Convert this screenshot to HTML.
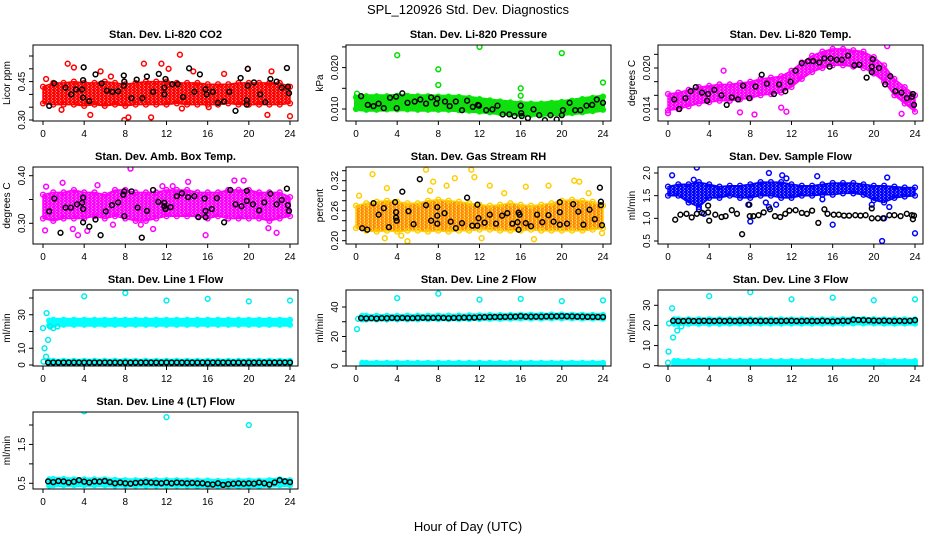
<!DOCTYPE html>
<html><head><meta charset="utf-8"><title>SPL_120926 Std. Dev. Diagnostics</title>
<style>html,body{margin:0;padding:0;background:#fff}svg{display:block}text{font-family:"Liberation Sans",Arial,sans-serif}</style>
</head><body>
<svg id="chart" width="936" height="540" viewBox="0 0 936 540" xmlns="http://www.w3.org/2000/svg">
<rect width="936" height="540" fill="#fff"/>
<text x="468" y="14" font-size="13" text-anchor="middle">SPL_120926  Std. Dev. Diagnostics</text>
<text x="468" y="531" font-size="13" text-anchor="middle">Hour of Day (UTC)</text>
</svg>
<script>
const bandHours=[0,1,2,3,4,5,6,7,8,9,10,11,12,13,14,15,16,17,18,19,20,21,22,23,24];
const lineHours=[0.6,1,2,3,4,5,6,7,8,9,10,11,12,13,14,15,16,17,18,19,20,21,22,23,24];
const halfHours=[0.5,1,1.5,2,2.5,3,3.5,4,4.5,5,5.5,6,6.5,7,7.5,8,8.5,9,9.5,10,10.5,11,11.5,12,12.5,13,13.5,14,14.5,15,15.5,16,16.5,17,17.5,18,18.5,19,19.5,20,20.5,21,21.5,22,22.5,23,23.5,24];
const xTickLabels=[0,4,8,12,16,20,24];

// CO2
const co2Lo=[0.365,0.36,0.36,0.36,0.355,0.36,0.355,0.36,0.355,0.36,0.36,0.36,0.36,0.365,0.36,0.36,0.36,0.36,0.365,0.36,0.36,0.36,0.36,0.36,0.365];
const co2Hi=[0.43,0.445,0.445,0.45,0.445,0.445,0.45,0.445,0.44,0.445,0.45,0.45,0.45,0.445,0.445,0.445,0.44,0.44,0.44,0.445,0.445,0.445,0.445,0.445,0.43];
const co2OutX=[7.9,8.3,13.3,12.2,5.6,14.6,19.9,10.5,24,4.6,1.8,2.4,9.8,11.5,13.5,17.6,21.8,22.2,3.0,16.1,6.6,0.3];
const co2OutY=[0.30,0.31,0.555,0.50,0.49,0.49,0.50,0.31,0.315,0.32,0.34,0.52,0.52,0.52,0.345,0.48,0.32,0.49,0.505,0.35,0.47,0.46];
const co2BlkX=[0.6,1.1,2.2,2.75,3.2,3.8,3.9,3.95,3.9,4.5,5.1,5.7,6.2,6.75,7.3,7.85,7.85,7.9,8.6,9.1,9.65,10.1,10.7,11.25,11.8,11.8,11.9,12.55,13.1,13.6,14.2,14.7,15.25,15.8,15.9,16.5,17.0,17.6,18.1,18.7,19.2,19.8,19.8,19.9,19.9,20.5,21.1,21.6,22.1,22.7,23.2,23.7,23.8,23.9];
const co2BlkY=[0.355,0.443,0.426,0.40,0.419,0.419,0.456,0.506,0.387,0.374,0.478,0.443,0.415,0.41,0.412,0.474,0.434,0.45,0.385,0.458,0.385,0.47,0.41,0.48,0.426,0.40,0.46,0.44,0.44,0.39,0.502,0.41,0.478,0.42,0.40,0.41,0.367,0.372,0.41,0.336,0.464,0.377,0.36,0.434,0.50,0.447,0.40,0.37,0.46,0.45,0.426,0.503,0.43,0.405];
const co2Ticks=[0.30,0.35,0.40,0.45,0.50,0.55];
const co2Labels=["0.30","","","0.45","",""];

// Pressure
const prsLo=[0.0100,0.0098,0.0098,0.0099,0.0099,0.0099,0.0098,0.0098,0.0098,0.0098,0.0097,0.0096,0.0094,0.0092,0.0090,0.0088,0.0087,0.0086,0.0086,0.0087,0.0088,0.0090,0.0092,0.0095,0.0098];
const prsHi=[0.0128,0.0131,0.0131,0.0131,0.0132,0.0132,0.0131,0.0131,0.0130,0.0130,0.0129,0.0127,0.0124,0.0121,0.0118,0.0116,0.0114,0.0113,0.0113,0.0115,0.0117,0.0120,0.0124,0.0127,0.0130];
const prsOutX=[4,8,8,12,16,16,20,24,0.1];
const prsOutY=[0.0230,0.0196,0.0158,0.0250,0.0150,0.0132,0.0235,0.0164,0.0137];
const prsBlkX=[0.5,1.15,1.7,2.2,2.7,3.3,3.9,3.95,4.5,5.0,5.7,6.25,6.8,7.3,7.8,7.9,8.65,9.1,9.7,10.3,10.8,11.35,11.85,11.95,12.65,13.25,13.75,14.25,14.9,15.4,16.0,16.05,16.1,16.7,17.25,17.8,18.35,18.9,19.5,20,20.1,20.75,21.3,21.8,22.4,22.95,23.4,24];
const prsBlkY=[0.0131,0.011,0.0107,0.0113,0.0102,0.0127,0.013,0.0102,0.0138,0.0115,0.0118,0.0123,0.0113,0.0128,0.0113,0.0125,0.0118,0.0107,0.0118,0.0097,0.012,0.0105,0.011,0.0108,0.0097,0.0099,0.0108,0.0087,0.0087,0.0083,0.0108,0.009,0.0083,0.0078,0.0099,0.0085,0.0073,0.0085,0.0075,0.0085,0.0097,0.0115,0.0097,0.0097,0.0108,0.011,0.0123,0.0115];
const prsTicks=[0.010,0.015,0.020,0.025];
const prsLabels=["0.010","","0.020",""];

// Li-820 Temp
const tmpLo=[0.0138,0.0140,0.0144,0.0148,0.0150,0.0152,0.0152,0.0154,0.0156,0.0160,0.0162,0.0164,0.0172,0.0184,0.0194,0.0200,0.0204,0.0204,0.0202,0.0200,0.0192,0.0180,0.0160,0.0148,0.0136];
const tmpHi=[0.0162,0.0164,0.0168,0.0172,0.0174,0.0176,0.0176,0.0178,0.0180,0.0184,0.0186,0.0188,0.0196,0.0208,0.0218,0.0224,0.0228,0.0228,0.0226,0.0224,0.0216,0.0204,0.0184,0.0172,0.0160];
const tmpOutX=[0,5.4,7.0,8.4,11.5,21.3,22.7,11];
const tmpOutY=[0.0134,0.0196,0.0135,0.0132,0.0136,0.0232,0.0133,0.0142];
const tmpBlkX=[0.6,1.1,1.7,2.2,2.7,3.3,3.8,3.9,4.5,5.2,5.7,6.2,6.8,7.3,7.9,8.5,9.1,9.6,10.3,10.8,11.4,11.9,12.4,13.0,13.6,14.1,14.7,15.2,15.7,15.8,16.4,16.9,17.5,18.1,18.6,19.3,19.8,19.8,19.9,20.5,21.1,21.6,22.1,22.7,23.2,23.7,23.8,23.9];
const tmpBlkY=[0.0154,0.0140,0.0156,0.0166,0.0172,0.0164,0.0152,0.0162,0.0168,0.0160,0.0146,0.0157,0.0154,0.0174,0.0156,0.0173,0.0190,0.0177,0.0162,0.0176,0.0166,0.0180,0.0196,0.0207,0.0210,0.0210,0.0208,0.0214,0.0202,0.0214,0.0212,0.0212,0.0218,0.0204,0.0205,0.0186,0.0194,0.0202,0.0213,0.0200,0.0176,0.0188,0.0166,0.0164,0.0156,0.0158,0.0162,0.0146];
const tmpTicks=[0.014,0.016,0.018,0.020,0.022];
const tmpLabels=["0.014","","","0.020",""];

// Amb box temp
const ambLo=[0.31,0.305,0.31,0.31,0.31,0.315,0.31,0.315,0.31,0.305,0.305,0.31,0.315,0.315,0.315,0.315,0.31,0.315,0.31,0.31,0.31,0.31,0.305,0.31,0.315];
const ambHi=[0.36,0.365,0.365,0.37,0.365,0.365,0.36,0.37,0.37,0.365,0.365,0.365,0.37,0.37,0.37,0.365,0.365,0.365,0.37,0.37,0.37,0.365,0.365,0.365,0.355];
const ambOutX=[0.2,3.4,8.5,15.8,22.7,1.9,5.3,19.5,18.6,11.6,4.3,9.5,14.1,21.9,6.8,10.7,2.9,0.3,12.6];
const ambOutY=[0.285,0.275,0.415,0.275,0.28,0.385,0.38,0.39,0.39,0.378,0.284,0.297,0.387,0.29,0.297,0.288,0.288,0.377,0.378];
const ambBlkX=[0.6,1.1,1.7,2.2,2.7,3.3,3.8,3.9,3.9,3.9,4.5,5.1,5.6,6.1,6.7,7.3,7.8,7.9,7.9,8.6,9.2,9.6,10.1,10.7,11.2,11.8,11.8,11.9,12.4,13.0,13.5,14.1,14.7,15.1,15.7,15.8,15.8,16.4,16.9,17.6,18.2,18.7,19.3,19.8,19.8,20.4,21,21.5,22.1,22.7,23.2,23.7,23.8,23.9];
const ambBlkY=[0.325,0.352,0.28,0.333,0.333,0.34,0.343,0.354,0.302,0.33,0.293,0.308,0.275,0.325,0.338,0.344,0.36,0.367,0.315,0.367,0.333,0.27,0.326,0.37,0.345,0.343,0.336,0.33,0.334,0.357,0.363,0.355,0.357,0.313,0.352,0.326,0.313,0.33,0.353,0.302,0.37,0.34,0.336,0.368,0.347,0.34,0.327,0.344,0.362,0.34,0.349,0.373,0.338,0.326];
const ambTicks=[0.30,0.35,0.40];
const ambLabels=["0.30","","0.40"];

// Gas stream RH
const rhLo=[0.225,0.22,0.218,0.22,0.218,0.22,0.22,0.218,0.22,0.218,0.22,0.22,0.222,0.222,0.22,0.22,0.22,0.222,0.22,0.22,0.22,0.22,0.22,0.222,0.225];
const rhHi=[0.27,0.275,0.278,0.28,0.278,0.275,0.275,0.28,0.282,0.28,0.278,0.275,0.272,0.27,0.272,0.275,0.272,0.27,0.272,0.275,0.28,0.282,0.28,0.278,0.27];
const rhOutX=[1.6,4.4,5.0,6.8,7.5,8.8,9.6,11.2,11.5,13.0,17.3,18.7,21.2,21.7,23.9,2.8,3.0,16.5,7.2,12.2,0.3,14.4,22.6];
const rhOutY=[0.333,0.21,0.199,0.342,0.318,0.31,0.325,0.342,0.327,0.31,0.203,0.31,0.32,0.318,0.215,0.205,0.305,0.308,0.30,0.205,0.29,0.295,0.295];
const rhBlkX=[0.6,1.1,1.7,2.2,2.7,3.2,3.8,3.9,3.9,3.95,4.5,5.1,5.6,6.2,6.8,7.3,7.9,7.9,7.9,8.6,9.2,9.7,10.3,10.8,11.3,11.8,11.8,11.9,12.5,13.0,13.6,14.2,14.7,15.2,15.7,15.8,15.8,15.9,16.5,17.0,17.6,18.1,18.7,19.2,19.8,19.8,19.8,20.5,21.1,21.6,22.1,22.7,23.2,23.7,23.8,23.8,23.9];
const rhBlkY=[0.225,0.222,0.275,0.252,0.265,0.227,0.277,0.257,0.246,0.24,0.298,0.259,0.233,0.323,0.271,0.24,0.267,0.25,0.234,0.255,0.238,0.225,0.235,0.286,0.23,0.272,0.23,0.245,0.236,0.252,0.234,0.25,0.255,0.234,0.237,0.222,0.256,0.252,0.235,0.229,0.252,0.237,0.251,0.238,0.277,0.257,0.232,0.234,0.273,0.258,0.232,0.262,0.243,0.306,0.278,0.271,0.231];
const rhTicks=[0.20,0.22,0.24,0.26,0.28,0.30,0.32,0.34];
const rhLabels=["0.20","","","0.26","","","0.32",""];

// Sample flow
const flowLo=[1.50,1.50,1.35,1.25,1.45,1.45,1.50,1.45,1.45,1.50,1.50,1.45,1.45,1.50,1.50,1.52,1.52,1.55,1.55,1.52,1.40,1.35,1.45,1.48,1.50];
const flowHi=[1.70,1.75,1.75,1.80,1.75,1.70,1.72,1.72,1.75,1.80,1.80,1.80,1.75,1.72,1.72,1.75,1.78,1.78,1.78,1.75,1.72,1.72,1.70,1.68,1.68];
const flowOutX=[0.4,2.8,3.0,8,9.5,9.8,9.8,10.5,11.1,16,20.8,21.5,21.3,24,11.5,14.5,19.8,21.0,3.5,2.5,7.8,15.0];
const flowOutY=[1.95,2.12,1.2,0.93,1.35,2.0,1.25,1.3,1.95,0.86,0.5,1.25,1.9,0.67,1.88,1.93,1.3,1.0,1.1,1.85,1.3,1.42];
const flowBlkX=[0.7,1.2,1.8,2.3,2.8,3.3,3.9,3.9,4.0,4.6,5.2,5.6,6.2,6.7,7.2,7.9,7.95,8.3,8.8,9.3,9.9,10.4,10.9,11.4,11.8,12.4,13.0,13.5,14.0,14.6,15.2,15.5,16.1,16.6,17.1,17.6,18.2,18.7,19.2,19.8,19.8,20.4,20.9,21.5,22.0,22.6,23.2,23.7,23.8,23.9];
const flowBlkY=[0.97,1.08,1.1,1.02,1.1,1.12,1.28,1.13,0.95,1.08,1.03,1.05,1.18,1.1,0.65,1.3,1.05,1.05,1.07,1.13,1.2,1.05,1.03,1.1,1.17,1.18,1.12,1.1,1.17,0.9,1.2,1.1,1.08,1.08,1.06,1.06,1.07,1.06,1.07,1.22,1.0,1.0,1.0,1.07,1.07,1.05,1.1,1.07,0.98,1.06];
const flowTicks=[0.5,1.0,1.5,2.0];
const flowLabels=["0.5","1.0","1.5","2.0"];

// Line 1
const l1Lo=[23.5,24,24,24,24,24,24,24,24,24,24,24,24,24,24,24,24,24,24,24,24,24,24,24,24];
const l1Hi=[26.5,27,27,27,27,27,27,27,27,27,27,27,27,27,27,27,27,27,27,27,27,27,27,27,27];
const l1LowLo=[0.8,0.8,0.8,0.8,0.8,0.8,0.8,0.8,0.8,0.8,0.8,0.8,0.8,0.8,0.8,0.8,0.8,0.8,0.8,0.8,0.8,0.8,0.8,0.8,0.8];
const l1LowHi=[2.5,2.5,2.5,2.5,2.5,2.5,2.5,2.5,2.5,2.5,2.5,2.5,2.5,2.5,2.5,2.5,2.5,2.5,2.5,2.5,2.5,2.5,2.5,2.5,2.5];
const l1Black=[1.5,1.5,1.5,1.5,1.5,1.5,1.5,1.5,1.5,1.5,1.5,1.5,1.5,1.5,1.5,1.5,1.5,1.5,1.5,1.5,1.5,1.5,1.5,1.5,1.5,1.5,1.5,1.5,1.5,1.5,1.5,1.5,1.5,1.5,1.5,1.5,1.5,1.5,1.5,1.5,1.5,1.5,1.5,1.5,1.5,1.5,1.5,1.5];
const l1OutX=[0,0.15,0.3,0.35,0.5,0.7,1.0,1.4,0.05,4,8,12,16,20,24];
const l1OutY=[22,10,5,31,15,23,22,23,2,41,43,38.5,39.5,38,38.5];
const l1Ticks=[0,10,20,30,40];
const l1Labels=["0","10","","30",""];

// Line 2
const l2Lo=[31.5,31.5,31.5,31.5,31.6,31.6,31.6,31.7,31.7,31.7,31.7,31.8,31.9,32,32,32.1,32.2,32.2,32.2,32.3,32.3,32.3,32.2,32.2,32.1];
const l2Hi=[34,34,34,34,34,34.1,34.1,34.1,34.2,34.2,34.2,34.3,34.4,34.5,34.5,34.6,34.8,34.8,34.8,34.9,34.9,34.8,34.7,34.6,34.6];
const l2LowLo=[0.4,0.4,0.4,0.4,0.4,0.4,0.4,0.4,0.4,0.4,0.4,0.4,0.4,0.4,0.4,0.4,0.4,0.4,0.4,0.4,0.4,0.4,0.4,0.4,0.4];
const l2LowHi=[2.2,2.2,2.2,2.2,2.2,2.2,2.2,2.2,2.2,2.2,2.2,2.2,2.2,2.2,2.2,2.2,2.2,2.2,2.2,2.2,2.2,2.2,2.2,2.2,2.2];
const l2Black=[32.5,32.3,32.4,32.2,32.5,32.4,32.6,32.5,32.6,32.5,32.5,32.6,32.7,32.6,32.6,32.7,32.6,32.5,32.6,32.7,32.8,32.8,32.8,33.0,33.1,33.2,33.2,33.3,33.3,33.4,33.5,33.8,33.5,33.4,33.5,33.4,33.6,33.6,33.7,33.8,33.7,33.6,33.5,33.4,33.3,33.3,33.2,33.2];
const l2OutX=[0.1,0.2,4,8,12,16,20,24];
const l2OutY=[25,32,46,49,45,45.5,44,44.5];
const l2Ticks=[0,10,20,30,40];
const l2Labels=["0","","20","","40"];

// Line 3
const l3Lo=[20.8,20.8,20.8,20.8,20.8,20.8,20.9,20.9,20.9,20.9,20.9,20.9,20.9,20.9,20.9,20.9,20.9,20.9,21,21,21,20.9,20.9,20.9,20.9];
const l3Hi=[23,23,23,23,23,23,23,23,23,23,23,23,23,23,23,23,23,23.1,23.3,23.2,23.1,23,23,23,23];
const l3LowLo=[0.8,0.8,0.8,0.8,0.8,0.8,0.8,0.8,0.8,0.8,0.8,0.8,0.8,0.8,0.8,0.8,0.8,0.8,0.8,0.8,0.8,0.8,0.8,0.8,0.8];
const l3LowHi=[2.3,2.3,2.3,2.3,2.3,2.3,2.3,2.3,2.3,2.3,2.3,2.3,2.3,2.3,2.3,2.3,2.3,2.3,2.3,2.3,2.3,2.3,2.3,2.3,2.3];
const l3Black=[22.3,22.2,22.2,22.3,22.2,22.2,22.3,22.2,22.2,22.3,22.2,22.3,22.2,22.3,22.2,22.3,22.3,22.2,22.3,22.2,22.3,22.2,22.3,22.3,22.2,22.2,22.3,22.2,22.2,22.3,22.2,22.0,22.2,22.3,22.2,22.8,22.7,22.6,22.5,22.4,22.3,22.4,22.3,22.2,22.3,22.2,22.3,22.6];
const l3OutX=[0.05,0.1,0.4,0.5,0.9,1.3,0,4,8,12,16,20,24,20.8];
const l3OutY=[7,21,28.5,14,17.5,19.5,1.5,34.5,36.5,33,33.8,32.5,33,0.2];
const l3Ticks=[0,10,20,30];
const l3Labels=["0","10","20","30"];

// Line 4
const l4Lo=[0.44,0.45,0.45,0.45,0.45,0.45,0.45,0.44,0.44,0.44,0.44,0.44,0.44,0.44,0.44,0.43,0.43,0.43,0.43,0.43,0.43,0.43,0.44,0.45,0.45];
const l4Hi=[0.60,0.61,0.61,0.60,0.60,0.60,0.60,0.59,0.58,0.58,0.58,0.58,0.58,0.58,0.57,0.57,0.57,0.56,0.56,0.57,0.57,0.57,0.58,0.60,0.58];
const l4Black=[0.55,0.53,0.56,0.55,0.52,0.54,0.58,0.54,0.52,0.55,0.54,0.56,0.53,0.50,0.52,0.50,0.49,0.51,0.52,0.53,0.52,0.51,0.50,0.52,0.50,0.52,0.51,0.50,0.51,0.50,0.50,0.48,0.47,0.50,0.46,0.48,0.49,0.50,0.49,0.50,0.49,0.52,0.50,0.47,0.52,0.58,0.55,0.53];
const l4OutX=[4,12,20];
const l4OutY=[2.35,2.2,2.0];
const l4Ticks=[0.5,1.0,1.5,2.0];
const l4Labels=["0.5","","1.5",""];

const NS='http://www.w3.org/2000/svg';
const svg=document.getElementById('chart');
function mk(tag,attrs,parent){const e=document.createElementNS(NS,tag);for(const k in attrs)e.setAttribute(k,attrs[k]);(parent||svg).appendChild(e);return e;}

const colX0=[43,356,668];
const rowTop=[45,167,290,412];
const rowBot=[121,244,366,489];
const PXH=247/24;

const panels=[
 {id:'co2',col:0,row:0,title:'Stan. Dev. Li-820 CO2',yt:'Licor ppm',v0:0.30,p0:120,v1:0.55,p1:56,ticks:co2Ticks,labels:co2Labels,
  bands:[{hx:bandHours,lo:co2Lo,hi:co2Hi,c:'#ff0000',c2:'#ff0000'}],pts:[{x:co2OutX,y:co2OutY,c:'#ff0000'},{x:co2BlkX,y:co2BlkY,c:'#000'}]},
 {id:'pressure',col:1,row:0,title:'Stan. Dev. Li-820 Pressure',yt:'kPa',v0:0.010,p0:109,v1:0.020,p1:67.6,ticks:prsTicks,labels:prsLabels,
  bands:[{hx:bandHours,lo:prsLo,hi:prsHi,c:'#00ee00',c2:'#22aa22',solid:'#11dd11'}],pts:[{x:prsOutX,y:prsOutY,c:'#00dd00'},{x:prsBlkX,y:prsBlkY,c:'#000'}]},
 {id:'li820-temp',col:2,row:0,title:'Stan. Dev. Li-820 Temp.',yt:'degrees C',v0:0.014,p0:109,v1:0.020,p1:68,ticks:tmpTicks,labels:tmpLabels,
  bands:[{hx:bandHours,lo:tmpLo,hi:tmpHi,c:'#ff00ff',c2:'#ff00ff'}],pts:[{x:tmpOutX,y:tmpOutY,c:'#ff00ff'},{x:tmpBlkX,y:tmpBlkY,c:'#000'}]},
 {id:'amb-box-temp',col:0,row:1,title:'Stan. Dev. Amb. Box Temp.',yt:'degrees C',v0:0.30,p0:223.3,v1:0.40,p1:175.7,ticks:ambTicks,labels:ambLabels,
  bands:[{hx:bandHours,lo:ambLo,hi:ambHi,c:'#ff00ff',c2:'#ff00ff'}],pts:[{x:ambOutX,y:ambOutY,c:'#ff00ff'},{x:ambBlkX,y:ambBlkY,c:'#000'}]},
 {id:'gas-stream-rh',col:1,row:1,title:'Stan. Dev. Gas Stream RH',yt:'percent',v0:0.20,p0:240.7,v1:0.34,p1:170.7,ticks:rhTicks,labels:rhLabels,
  bands:[{hx:bandHours,lo:rhLo,hi:rhHi,c:'#ffcc00',c2:'#ff8800'}],pts:[{x:rhOutX,y:rhOutY,c:'#ffcc00'},{x:rhBlkX,y:rhBlkY,c:'#000'}]},
 {id:'sample-flow',col:2,row:1,title:'Stan. Dev. Sample Flow',yt:'ml/min',v0:0.5,p0:241,v1:2.0,p1:173,ticks:flowTicks,labels:flowLabels,
  bands:[{hx:bandHours,lo:flowLo,hi:flowHi,c:'#0000ff',c2:'#0000ff'}],pts:[{x:flowOutX,y:flowOutY,c:'#0000ff'},{x:flowBlkX,y:flowBlkY,c:'#000'}]},
 {id:'line1-flow',col:0,row:2,title:'Stan. Dev. Line 1 Flow',yt:'ml/min',v0:0,p0:365,v1:40,p1:298,ticks:l1Ticks,labels:l1Labels,
  bands:[{hx:lineHours,lo:l1Lo,hi:l1Hi,c:'#00ffff',c2:'#00ffff',solid:'#00ffff'},{hx:lineHours,lo:l1LowLo,hi:l1LowHi,c:'#00ffff',c2:'#00ffff',solid:'#00ffff'}],pts:[{x:l1OutX,y:l1OutY,c:'#00eeee'},{x:halfHours,y:l1Black,c:'#000'}]},
 {id:'line2-flow',col:1,row:2,title:'Stan. Dev. Line 2 Flow',yt:'ml/min',v0:0,p0:366,v1:40,p1:307,ticks:l2Ticks,labels:l2Labels,
  bands:[{hx:lineHours,lo:l2Lo,hi:l2Hi,c:'#00ffff',c2:'#00ffff',solid:'#00ffff'},{hx:lineHours,lo:l2LowLo,hi:l2LowHi,c:'#00ffff',c2:'#00ffff',solid:'#00ffff'}],pts:[{x:l2OutX,y:l2OutY,c:'#00eeee'},{x:halfHours,y:l2Black,c:'#000'}]},
 {id:'line3-flow',col:2,row:2,title:'Stan. Dev. Line 3 Flow',yt:'ml/min',v0:0,p0:365.7,v1:30,p1:305.3,ticks:l3Ticks,labels:l3Labels,
  bands:[{hx:lineHours,lo:l3Lo,hi:l3Hi,c:'#00ffff',c2:'#00ffff',solid:'#00ffff'},{hx:lineHours,lo:l3LowLo,hi:l3LowHi,c:'#00ffff',c2:'#00ffff',solid:'#00ffff'}],pts:[{x:l3OutX,y:l3OutY,c:'#00eeee'},{x:halfHours,y:l3Black,c:'#000'}]},
 {id:'line4-flow',col:0,row:3,title:'Stan. Dev. Line 4 (LT) Flow',yt:'ml/min',v0:0.5,p0:483.3,v1:2.0,p1:425,ticks:l4Ticks,labels:l4Labels,
  bands:[{hx:lineHours,lo:l4Lo,hi:l4Hi,c:'#00ffff',c2:'#00ffff',solid:'#00ffff'}],pts:[{x:l4OutX,y:l4OutY,c:'#00eeee'},{x:halfHours,y:l4Black,c:'#000'}]}
];

panels.forEach(function(p){
  const x0=colX0[p.col], top=rowTop[p.row], bot=rowBot[p.row];
  const left=x0-10, right=x0+255;
  const xs=function(h){return x0+h*PXH;};
  const ys=function(v){return p.p0+(v-p.v0)*(p.p1-p.p0)/(p.v1-p.v0);};
  const g=mk('g',{});
  
  
  const defs=mk('defs',{},g);
  const cp=mk('clipPath',{id:'clip-'+p.id},defs);
  mk('rect',{x:left,y:top,width:right-left,height:bot-top},cp);
  p.bands.forEach(function(b,bi){
    const pat=mk('pattern',{id:'pat-'+p.id+'-'+bi,width:4,height:3,patternUnits:'userSpaceOnUse'},defs);
    mk('circle',{cx:1,cy:1.5,r:1.5,fill:'none',stroke:b.c,'stroke-width':1.7},pat);
    mk('circle',{cx:3,cy:0,r:1.5,fill:'none',stroke:b.c2,'stroke-width':1.7},pat);
    mk('circle',{cx:3,cy:3,r:1.5,fill:'none',stroke:b.c2,'stroke-width':1.7},pat);
  });
  const t=mk('text',{x:(left+right)/2,y:top-7,'font-size':'11','font-weight':'bold','text-anchor':'middle'},g);
  
  
  t.textContent=p.title;
  const plot=mk('g',{'clip-path':'url(#clip-'+p.id+')'},g);
  
  
  p.bands.forEach(function(b,bi){
    let pts=[];
    for(let i=0;i<b.hx.length;i++)pts.push(xs(b.hx[i]).toFixed(1)+','+ys(b.hi[i]).toFixed(1));
    for(let i=b.hx.length-1;i>=0;i--)pts.push(xs(b.hx[i]).toFixed(1)+','+ys(b.lo[i]).toFixed(1));
    const fill=b.solid?b.solid:'url(#pat-'+p.id+'-'+bi+')';
    const poly=mk('polygon',{points:pts.join(' '),fill:fill,stroke:b.solid?b.solid:b.c,'stroke-width':b.solid?4:1.5,'stroke-linejoin':'round'},plot);
    
    
    for(let i=0;i<b.hx.length;i++){
      [b.lo[i],b.hi[i]].forEach(function(v){
        const c=mk('circle',{cx:xs(b.hx[i]).toFixed(1),cy:ys(v).toFixed(1),r:2.4,fill:'none',stroke:b.c,'stroke-width':1.4},plot);
        
        
      });
    }
  });
  p.pts.forEach(function(s){
    for(let i=0;i<s.x.length;i++){
      const c=mk('circle',{cx:xs(s.x[i]).toFixed(1),cy:ys(s.y[i]).toFixed(1),r:2.4,fill:'none',stroke:s.c,'stroke-width':1.5},plot);
      
      
    }
  });
  const box=mk('rect',{x:left,y:top,width:right-left,height:bot-top,fill:'none',stroke:'#000','stroke-width':1},g);
  
  
  xTickLabels.forEach(function(h){
    const tk=mk('line',{x1:xs(h),x2:xs(h),y1:bot,y2:bot+4,stroke:'#000'},g);
    
    
    const tl=mk('text',{x:xs(h),y:bot+16,'font-size':'10','text-anchor':'middle'},g);
    
    
    tl.textContent=String(h);
  });
  p.ticks.forEach(function(v,i){
    const yy=ys(v);
    const tk=mk('line',{x1:left-4,x2:left,y1:yy,y2:yy,stroke:'#000'},g);
    
    
    if(p.labels[i]){
      const tl=mk('text',{x:left-8,y:yy,'font-size':'10','text-anchor':'middle',transform:'rotate(-90 '+(left-8)+' '+yy+')'},g);
      
      
      tl.textContent=p.labels[i];
    }
  });
  const yt=mk('text',{x:left-23,y:(top+bot)/2,'font-size':'10','text-anchor':'middle',transform:'rotate(-90 '+(left-23)+' '+((top+bot)/2)+')'},g);
  
  
  yt.textContent=p.yt;
});
</script>
</body></html>
